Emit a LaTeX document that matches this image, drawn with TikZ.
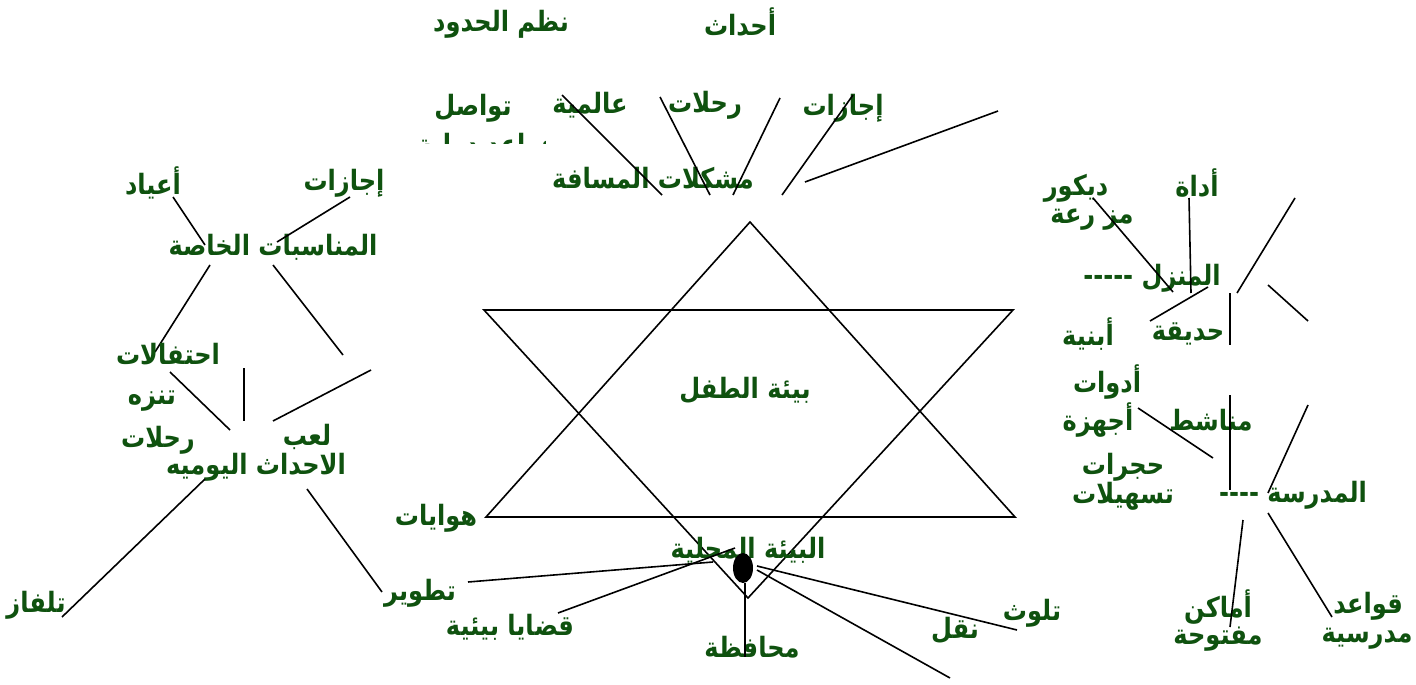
\documentclass[tikz,border=0pt]{standalone}
\usepackage{fontspec}
\usepackage{graphicx}
\usetikzlibrary{shapes.geometric}
\TeXXeTstate=1
\newfontfamily\arabicfont[Script=Arabic]{DejaVu Sans}
\definecolor{txtgreen}{HTML}{0F520F}
\newcommand{\artext}[1]{\scalebox{0.86}[1]{\beginR #1\endR}}
\begin{document}
\begin{tikzpicture}[x=0.5pt,y=-0.5pt,
  lbl/.style={text=txtgreen,font=\arabicfont\bfseries\fontsize{14}{16}\selectfont,inner sep=0pt},
  ln/.style={line width=0.8pt,black}]
\useasboundingbox[fill=white] (0,0) rectangle (1416,684);
% star
\coordinate (ua) at (750,222); \coordinate (ul) at (486,517); \coordinate (ur) at (1015,517);
\coordinate (dl) at (484,310); \coordinate (dr) at (1013,310); \coordinate (da) at (748,598);
\draw[ln] (ua) -- (ul) -- (ur) -- cycle;
\draw[ln] (dl) -- (dr) -- (da) -- cycle;
\node[lbl] (center) at (745,390) {\artext{بيئة الطفل}};
% top cluster
\node[lbl] (nuzum) at (501,24) {\artext{نظم الحدود}};
\node[lbl] (ahdath) at (740,22) {\artext{أحداث}};
\node[lbl] (tawasul) at (473,108) {\artext{تواصل}};
\begin{scope}
\clip (420,125) rectangle (545,144);
\node[lbl] (clipped) at (487,147) {\artext{قواعد دولية}};
\end{scope}
\node[lbl] (alamiya) at (590,105) {\artext{عالمية}};
\node[lbl] (rihlat1) at (705,105) {\artext{رحلات}};
\node[lbl] (ijazat1) at (843,108) {\artext{إجازات}};
\node[lbl] (mushkilat) at (653,178) {\artext{مشكلات المسافة}};
\coordinate (t1a) at (562,95);  \coordinate (t1b) at (662,195);
\coordinate (t2a) at (660,97);  \coordinate (t2b) at (710,195);
\coordinate (t3a) at (780,98);  \coordinate (t3b) at (733,195);
\coordinate (t4a) at (853,95);  \coordinate (t4b) at (782,195);
\coordinate (t5a) at (998,111); \coordinate (t5b) at (805,182);
\draw[ln] (t1a) -- (t1b);
\draw[ln] (t2a) -- (t2b);
\draw[ln] (t3a) -- (t3b);
\draw[ln] (t4a) -- (t4b);
\draw[ln] (t5a) -- (t5b);
% left upper cluster
\node[lbl] (aayad) at (153,183) {\artext{أعياد}};
\node[lbl] (ijazat2) at (344,183) {\artext{إجازات}};
\node[lbl] (munasabat) at (273,247) {\artext{المناسبات الخاصة}};
\coordinate (l1a) at (173,197); \coordinate (l1b) at (205,245);
\coordinate (l2a) at (350,197); \coordinate (l2b) at (277,242);
\coordinate (l3a) at (210,265); \coordinate (l3b) at (155,352);
\coordinate (l4a) at (273,265); \coordinate (l4b) at (343,355);
\draw[ln] (l1a) -- (l1b);
\draw[ln] (l2a) -- (l2b);
\draw[ln] (l3a) -- (l3b);
\draw[ln] (l4a) -- (l4b);
% left lower cluster
\node[lbl] (ihtifalat) at (168,354) {\artext{احتفالات}};
\node[lbl] (tanazzuh) at (152,401) {\artext{تنزه}};
\node[lbl] (rihlat2) at (158,440) {\artext{رحلات}};
\node[lbl] (laab) at (307,437) {\artext{لعب}};
\node[lbl] (yawmiya) at (256,467) {\artext{الاحداث اليوميه}};
\node[lbl] (tilfaz) at (36,605) {\artext{تلفاز}};
\node[lbl] (hiwayat) at (436,518) {\artext{هوايات}};
\node[lbl] (tatwir) at (420,593) {\artext{تطوير}};
\coordinate (m1a) at (170,372); \coordinate (m1b) at (230,430);
\coordinate (m2a) at (244,368); \coordinate (m2b) at (244,421);
\coordinate (m3a) at (371,370); \coordinate (m3b) at (273,421);
\coordinate (m4a) at (205,479); \coordinate (m4b) at (62,617);
\coordinate (m5a) at (307,489); \coordinate (m5b) at (382,592);
\draw[ln] (m1a) -- (m1b);
\draw[ln] (m2a) -- (m2b);
\draw[ln] (m3a) -- (m3b);
\draw[ln] (m4a) -- (m4b);
\draw[ln] (m5a) -- (m5b);
% bottom cluster
\node[lbl] (mahalliya) at (748,550) {\artext{البيئة المحلية}};
\node[lbl] (qadaya) at (510,627) {\artext{قضايا بيئية}};
\node[lbl] (muhafaza) at (752,647) {\artext{محافظة}};
\node[lbl] (naql) at (955,630) {\artext{نقل}};
\node[lbl] (talawwuth) at (1032,613) {\artext{تلوث}};
\coordinate (b1a) at (468,582); \coordinate (b1b) at (713,562);
\coordinate (b2a) at (558,613); \coordinate (b2b) at (735,548);
\coordinate (b3a) at (757,566); \coordinate (b3b) at (1017,630);
\coordinate (b4a) at (757,570); \coordinate (b4b) at (950,678);
\coordinate (b5a) at (745,583); \coordinate (b5b) at (745,657);
\draw[ln] (b1a) -- (b1b);
\draw[ln] (b2a) -- (b2b);
\draw[ln] (b3a) -- (b3b);
\draw[ln] (b4a) -- (b4b);
\draw[ln] (b5a) -- (b5b);
\node[ellipse,fill=black,minimum width=10pt,minimum height=15pt,inner sep=0pt] (dot) at (743,568) {};
% right upper cluster
\node[lbl] (dikur) at (1076,188) {\artext{ديكور}};
\node[lbl] (adat) at (1197,183) {\artext{أداة}};
\node[lbl] (mazraa) at (1092,220) {\artext{مز رعة}};
\node[lbl] (manzil) at (1152,278) {\artext{المنزل -----}};
\node[lbl] (hadiqa) at (1188,334) {\artext{حديقة}};
\node[lbl] (abniya) at (1088,334) {\artext{أبنية}};
\coordinate (r1a) at (1093,198); \coordinate (r1b) at (1173,292);
\coordinate (r2a) at (1189,198); \coordinate (r2b) at (1191,293);
\coordinate (r3a) at (1295,198); \coordinate (r3b) at (1237,293);
\coordinate (r4a) at (1208,287); \coordinate (r4b) at (1150,321);
\coordinate (r5a) at (1230,293); \coordinate (r5b) at (1230,345);
\coordinate (r6a) at (1268,285); \coordinate (r6b) at (1308,321);
\draw[ln] (r1a) -- (r1b);
\draw[ln] (r2a) -- (r2b);
\draw[ln] (r3a) -- (r3b);
\draw[ln] (r4a) -- (r4b);
\draw[ln] (r5a) -- (r5b);
\draw[ln] (r6a) -- (r6b);
% right lower cluster
\node[lbl] (adawat) at (1107,382) {\artext{أدوات}};
\node[lbl] (ajhiza) at (1098,420) {\artext{أجهزة}};
\node[lbl] (manashit) at (1211,420) {\artext{مناشط}};
\node[lbl] (hujurat) at (1123,467) {\artext{حجرات}};
\node[lbl] (tashilat) at (1123,496) {\artext{تسهيلات}};
\node[lbl] (madrasa) at (1293,495) {\artext{المدرسة ----}};
\node[lbl] (amakin) at (1218,607) {\artext{أماكن}};
\node[lbl] (maftuha) at (1218,639) {\artext{مفتوحة}};
\node[lbl] (qawaid) at (1368,606) {\artext{قواعد}};
\node[lbl] (madrasiya) at (1367,639) {\artext{مدرسية}};
\coordinate (s1a) at (1138,408); \coordinate (s1b) at (1213,458);
\coordinate (s2a) at (1230,395); \coordinate (s2b) at (1230,490);
\coordinate (s3a) at (1308,405); \coordinate (s3b) at (1268,493);
\coordinate (s4a) at (1243,520); \coordinate (s4b) at (1230,627);
\coordinate (s5a) at (1268,513); \coordinate (s5b) at (1332,617);
\draw[ln] (s1a) -- (s1b);
\draw[ln] (s2a) -- (s2b);
\draw[ln] (s3a) -- (s3b);
\draw[ln] (s4a) -- (s4b);
\draw[ln] (s5a) -- (s5b);
\end{tikzpicture}
\end{document}
